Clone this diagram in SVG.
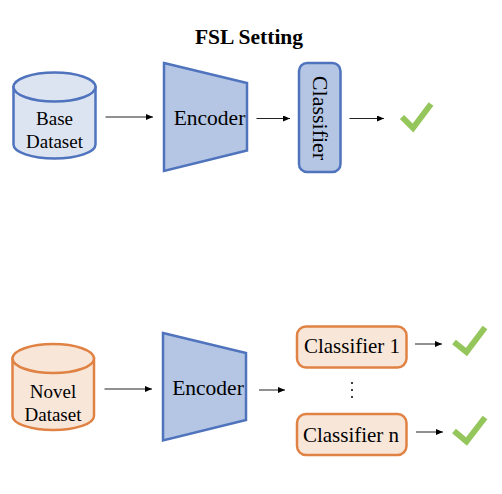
<svg xmlns="http://www.w3.org/2000/svg" width="502" height="494" viewBox="0 0 502 494">
<style>
text{font-family:"Liberation Serif","Times New Roman",serif;fill:#000;text-anchor:middle}
.l{font-size:21px}.m{font-size:21.500px}.s{font-size:19px}
.blue{stroke:#4f73bd;stroke-width:2.5;fill:#b4c6e4}
.pale{stroke:#4f73bd;stroke-width:2.5;fill:#dce4f2}
.org{stroke:#e08243;stroke-width:2.5;fill:#f8e6d9}
.conn{stroke:#222;stroke-width:1;fill:none;marker-end:url(#a)}
.chk{stroke:#95c65c;stroke-width:6;fill:none;stroke-linejoin:miter}
</style>
<defs><marker id="a" markerUnits="userSpaceOnUse" markerWidth="8" markerHeight="7" refX="7" refY="3" orient="auto"><path d="M0 0L7 3L0 6Z" fill="#000"/></marker></defs>
<text x="249" y="44" font-size="21.500" font-weight="bold">FSL Setting</text>
<g id="base-dataset">
<path class="pale" d="M13.500 87V144.500A41 14 0 0 0 95.500 144.500V87Z"/>
<ellipse class="pale" cx="54.500" cy="87" rx="41" ry="14.500"/>
<text class="s" x="54.500" y="125">Base</text>
<text class="s" x="54.500" y="148">Dataset</text>
</g>
<g id="encoder-1"><path class="blue" d="M164 63L247 83V150.500L164 171Z"/><text class="m" x="209.500" y="125">Encoder</text></g>
<g id="classifier"><rect class="blue" x="299" y="63" width="41.500" height="109" rx="8"/><text font-size="22" transform="translate(313 118) rotate(90)">Classifier</text></g>
<g id="check-1"><path class="chk" d="M402 117L413 128L431 104"/></g>
<g id="novel-dataset">
<path class="org" d="M12.500 358V416A40.750 14 0 0 0 94 416V358Z"/>
<ellipse class="org" cx="53.250" cy="358.500" rx="40.750" ry="14.500"/>
<text class="s" x="53" y="398">Novel</text>
<text class="s" x="53" y="421">Dataset</text>
</g>
<g id="encoder-2"><path class="blue" d="M163 333L246 353V420L163 440.500Z"/><text class="m" x="208" y="395">Encoder</text></g>
<g id="classifier-1"><rect class="org" x="297" y="326.500" width="109.500" height="41" rx="9"/><text class="l" x="352" y="353">Classifier 1</text></g>
<g id="classifier-n"><rect class="org" x="297" y="414" width="109.500" height="41" rx="9"/><text class="l" x="351" y="441.500">Classifier n</text></g>
<g id="dots" fill="#000"><circle cx="352" cy="383" r="1"/><circle cx="352" cy="390" r="1"/><circle cx="352" cy="397" r="1"/></g>
<g id="check-2"><path class="chk" d="M454 342L466.500 352L485 327.500"/></g>
<g id="check-3"><path class="chk" d="M454 431L466.500 441.500L485 417.500"/></g>
<g id="connectors">
<path class="conn" d="M105.500 117H153"/>
<path class="conn" d="M256.500 118.500H290"/>
<path class="conn" d="M349.500 118.500H384"/>
<path class="conn" d="M104.500 389H152"/>
<path class="conn" d="M259 390H285"/>
<path class="conn" d="M415 344H442"/>
<path class="conn" d="M416 432H443"/>
</g>
</svg>
